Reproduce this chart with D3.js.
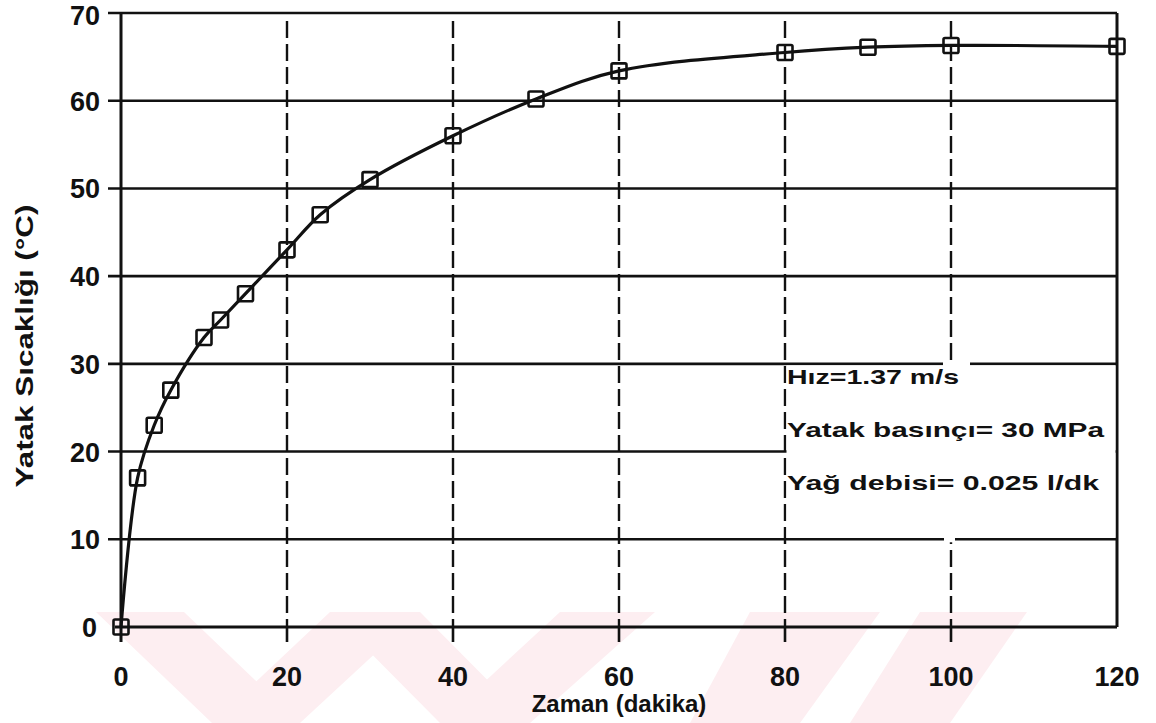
<!DOCTYPE html>
<html>
<head>
<meta charset="utf-8">
<script src="https://cdn.jsdelivr.net/npm/d3@7"></script>
<style>
  html, body { margin: 0; padding: 0; background: #fff; }
  svg { display: block; }
  text { font-family: "Liberation Sans", Arial, sans-serif; font-weight: 700; fill: #111; }
</style>
</head>
<body>
<svg id="chart" width="1156" height="723"></svg>
<script>
// Bearing temperature versus running time
const times = [0, 2, 4, 6, 10, 12, 15, 20, 24, 30, 40, 50, 60, 80, 90, 100, 120];
const temps = [0, 17, 23, 27, 33, 35, 38, 43, 47, 51, 56, 60.2, 63.4, 65.5, 66.1, 66.3, 66.2];

const xTicks = [0, 20, 40, 60, 80, 100, 120];
const yTicks = [0, 10, 20, 30, 40, 50, 60, 70];

const xTitle = "Zaman (dakika)";
const yTitle = "Yatak Sıcaklığı (°C)";
const noteLines = ["Hız=1.37 m/s", "Yatak basınçı= 30 MPa", "Yağ debisi= 0.025 l/dk"];

const svg = d3.select("#chart");
const W = 1156, H = 723;
svg.append("rect").attr("width", W).attr("height", H).attr("fill", "#fff");

const x = d3.scaleLinear().domain([0, 120]).range([121, 1117]);
const y = d3.scaleLinear().domain([0, 70]).range([627, 13]);

// faint pink watermark bands along the bottom edge
const wm = svg.append("g").attr("fill", "#fdeef1");
const bands = [
  [[96, 612], [184, 612], [300, 723], [212, 723]],
  [[330, 612], [420, 612], [300, 723], [212, 723]],
  [[330, 612], [420, 612], [530, 723], [440, 723]],
  [[560, 612], [655, 612], [530, 723], [440, 723]],
  [[750, 612], [880, 612], [800, 723], [690, 723]],
  [[920, 612], [1027, 612], [950, 723], [850, 723]]
];
bands.forEach(b => wm.append("polygon").attr("points", b.map(p => p.join(",")).join(" ")));

const ink = "#111";
const grid = svg.append("g");

// horizontal solid grid lines with short ticks on the left
yTicks.filter(v => v > 0).forEach(v => {
  grid.append("line")
    .attr("x1", x(0) - 13).attr("x2", x(120))
    .attr("y1", y(v)).attr("y2", y(v))
    .attr("stroke", ink).attr("stroke-width", 2.6);
});
// baseline
grid.append("line")
  .attr("x1", x(0) - 6).attr("x2", x(120))
  .attr("y1", y(0)).attr("y2", y(0))
  .attr("stroke", ink).attr("stroke-width", 2.8);

// dashed vertical grid lines
xTicks.filter(v => v > 0 && v < 120).forEach(v => {
  grid.append("line")
    .attr("x1", x(v)).attr("x2", x(v))
    .attr("y1", y(70) + 8).attr("y2", y(0))
    .attr("stroke", ink).attr("stroke-width", 2.4)
    .attr("stroke-dasharray", "17,6");
  grid.append("line")
    .attr("x1", x(v)).attr("x2", x(v))
    .attr("y1", y(0)).attr("y2", y(0) + 15)
    .attr("stroke", ink).attr("stroke-width", 2.6);
});

// left axis and right frame
grid.append("line")
  .attr("x1", x(0)).attr("x2", x(0))
  .attr("y1", y(70)).attr("y2", y(0) + 15)
  .attr("stroke", ink).attr("stroke-width", 3);
grid.append("line")
  .attr("x1", x(120)).attr("x2", x(120))
  .attr("y1", y(70)).attr("y2", y(0))
  .attr("stroke", ink).attr("stroke-width", 3);

// note box: blank panel between the 10 and 30 lines, right of the 80 line
svg.append("rect")
  .attr("x", x(80) + 1.5).attr("y", y(30) + 1.5)
  .attr("width", x(120) - x(80) - 3).attr("height", y(10) - y(30) - 3)
  .attr("fill", "#fff");
svg.append("rect").attr("x", 943).attr("y", y(30) - 3).attr("width", 27).attr("height", 6).attr("fill", "#fff");
svg.append("rect").attr("x", 944).attr("y", y(10) - 3).attr("width", 11).attr("height", 6).attr("fill", "#fff");

const noteY = [384, 437, 490];
const noteW = [172, 317, 312];
noteLines.forEach((t, i) => {
  svg.append("text")
    .attr("x", x(80) + 2).attr("y", noteY[i])
    .attr("font-size", 21)
    .attr("textLength", noteW[i]).attr("lengthAdjust", "spacingAndGlyphs")
    .text(t);
});

// fitted curve
const pts = times.map((t, i) => [t, temps[i]]);
const line = d3.line().x(d => x(d[0])).y(d => y(d[1])).curve(d3.curveCatmullRom.alpha(0.5));
svg.append("path").datum(pts)
  .attr("d", line).attr("fill", "none")
  .attr("stroke", ink).attr("stroke-width", 3.2);

// square markers
svg.append("g").selectAll("rect").data(pts).join("rect")
  .attr("x", d => x(d[0]) - 7.5).attr("y", d => y(d[1]) - 7.5)
  .attr("width", 15).attr("height", 15).attr("rx", 1.5)
  .attr("fill", "none").attr("stroke", ink).attr("stroke-width", 2.6);

// tick labels
svg.append("g").selectAll("text").data(yTicks).join("text")
  .attr("x", d => d === 0 ? 97 : 100).attr("y", d => y(d) + 10)
  .attr("dy", d => d === 70 ? 1.5 : 0)
  .attr("text-anchor", "end").attr("font-size", 27)
  .text(d => d);
svg.append("g").selectAll("text").data(xTicks).join("text")
  .attr("x", d => x(d)).attr("y", 686)
  .attr("text-anchor", "middle").attr("font-size", 27)
  .text(d => d);

// axis titles
svg.append("text")
  .attr("x", x(60)).attr("y", 712)
  .attr("text-anchor", "middle").attr("font-size", 24)
  .text(xTitle);
svg.append("text")
  .attr("transform", "translate(33,346) rotate(-90)")
  .attr("text-anchor", "middle").attr("font-size", 24)
  .attr("textLength", 283).attr("lengthAdjust", "spacingAndGlyphs")
  .text(yTitle);
</script>
</body>
</html>
